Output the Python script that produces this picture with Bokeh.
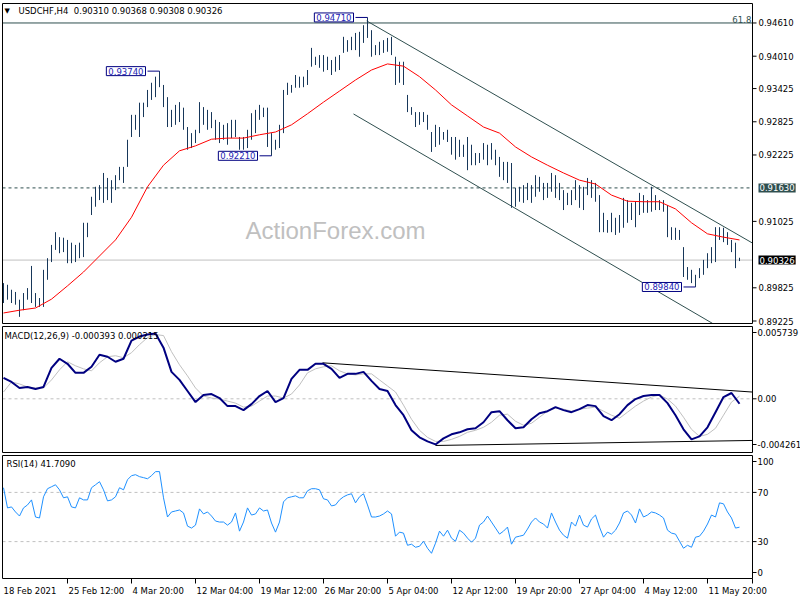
from bokeh.plotting import figure
from bokeh.models import Range1d, Label
from bokeh.core.properties import value
from bokeh.embed import file_html
from bokeh.resources import INLINE

# ---------------- data ----------------
symbol = "USDCHF,H4"
last_ohlc = [0.90310, 0.90368, 0.90308, 0.90326]

highs = [0.8991, 0.8988, 0.8979, 0.8975, 0.8961, 0.8973, 0.8982, 0.9022, 0.8973, 0.8964,
         0.9015, 0.9036, 0.9060, 0.9083, 0.9074, 0.9073, 0.9069, 0.9064, 0.9060, 0.9064,
         0.9100, 0.9100, 0.9147, 0.9165, 0.9168, 0.9190, 0.9181, 0.9177, 0.9186, 0.9201,
         0.9201, 0.9250, 0.9295, 0.9295, 0.9317, 0.9317, 0.9340, 0.9353, 0.9364, 0.9374,
         0.9349, 0.9327, 0.9304, 0.9313, 0.9318, 0.9308, 0.9273, 0.9262, 0.9268, 0.9318,
         0.9309, 0.9304, 0.9300, 0.9286, 0.9282, 0.9277, 0.9280, 0.9286, 0.9286, 0.9255,
         0.9255, 0.9268, 0.9298, 0.9304, 0.9313, 0.9308, 0.9308, 0.9262, 0.9250, 0.9277,
         0.9340, 0.9353, 0.9349, 0.9367, 0.9364, 0.9364, 0.9376, 0.9416, 0.9400, 0.9403,
         0.9403, 0.9400, 0.9394, 0.9400, 0.9403, 0.9436, 0.9430, 0.9436, 0.9443, 0.9445,
         0.9457, 0.9471, 0.9448, 0.9421, 0.9427, 0.9430, 0.9434, 0.9436, 0.9400, 0.9391,
         0.9391, 0.9331, 0.9309, 0.9300, 0.9300, 0.9300, 0.9295, 0.9264, 0.9277, 0.9273,
         0.9264, 0.9268, 0.9255, 0.9255, 0.9250, 0.9241, 0.9255, 0.9241, 0.9226, 0.9226,
         0.9244, 0.9241, 0.9244, 0.9232, 0.9219, 0.9210, 0.9210, 0.9208, 0.9163, 0.9165,
         0.9168, 0.9172, 0.9168, 0.9186, 0.9183, 0.9172, 0.9172, 0.9190, 0.9186, 0.9172,
         0.9159, 0.9154, 0.9159, 0.9177, 0.9168, 0.9165, 0.9181, 0.9177, 0.9172, 0.9150,
         0.9118, 0.9105, 0.9118, 0.9109, 0.9114, 0.9145, 0.9141, 0.9136, 0.9138, 0.9154,
         0.9150, 0.9141, 0.9165, 0.9150, 0.9141, 0.9141, 0.9132, 0.9092, 0.9091, 0.9087,
         0.9056, 0.9020, 0.9015, 0.9006, 0.9018, 0.9033, 0.9045, 0.9056, 0.9092, 0.9092,
         0.9091, 0.9083, 0.9069, 0.9064, 0.90368]

lows = [0.8955, 0.8961, 0.8955, 0.8952, 0.8930, 0.8942, 0.8961, 0.8955, 0.8948, 0.8948,
        0.8948, 0.8997, 0.9029, 0.9051, 0.9045, 0.9047, 0.9027, 0.9027, 0.9029, 0.9036,
        0.9038, 0.9074, 0.9114, 0.9129, 0.9141, 0.9136, 0.9141, 0.9136, 0.9159, 0.9177,
        0.9172, 0.9201, 0.9255, 0.9268, 0.9255, 0.9291, 0.9309, 0.9322, 0.9327, 0.9345,
        0.9309, 0.9273, 0.9273, 0.9277, 0.9282, 0.9268, 0.9232, 0.9235, 0.9244, 0.9262,
        0.9277, 0.9268, 0.9271, 0.9250, 0.9244, 0.9250, 0.9241, 0.9253, 0.9255, 0.9232,
        0.9232, 0.9235, 0.9250, 0.9262, 0.9286, 0.9291, 0.9237, 0.9221, 0.9232, 0.9235,
        0.9262, 0.9331, 0.9335, 0.9344, 0.9344, 0.9345, 0.9349, 0.9382, 0.9385, 0.9380,
        0.9373, 0.9376, 0.9367, 0.9373, 0.9376, 0.9407, 0.9409, 0.9412, 0.9412, 0.9400,
        0.9425, 0.9434, 0.9400, 0.9403, 0.9403, 0.9407, 0.9409, 0.9403, 0.9349, 0.9353,
        0.9349, 0.9300, 0.9295, 0.9273, 0.9277, 0.9282, 0.9268, 0.9228, 0.9237, 0.9241,
        0.9250, 0.9246, 0.9223, 0.9214, 0.9219, 0.9219, 0.9195, 0.9204, 0.9204, 0.9208,
        0.9214, 0.9204, 0.9214, 0.9204, 0.9183, 0.9177, 0.9172, 0.9127, 0.9129, 0.9138,
        0.9136, 0.9141, 0.9136, 0.9147, 0.9156, 0.9141, 0.9145, 0.9156, 0.9145, 0.9141,
        0.9123, 0.9132, 0.9132, 0.9141, 0.9127, 0.9123, 0.9150, 0.9145, 0.9138, 0.9083,
        0.9083, 0.9082, 0.9083, 0.9078, 0.9082, 0.9091, 0.9100, 0.9105, 0.9092, 0.9114,
        0.9118, 0.9118, 0.9120, 0.9123, 0.9123, 0.9120, 0.9074, 0.9069, 0.9069, 0.9069,
        0.9002, 0.8997, 0.8991, 0.8984, 0.9000, 0.9006, 0.9018, 0.9027, 0.9029, 0.9069,
        0.9065, 0.9060, 0.9047, 0.9018, 0.90308]

# moving average, read every 4th bar
ma_vals = [0.8937, 0.8942, 0.8946, 0.8962, 0.8986, 0.9011, 0.9040, 0.9069, 0.9110, 0.9165,
           0.9204, 0.9230, 0.9239, 0.9251, 0.9253, 0.9253, 0.9259, 0.9264, 0.9277, 0.9297,
           0.9318, 0.9338, 0.9358, 0.9376, 0.9387, 0.9383, 0.9364, 0.9340, 0.9313, 0.9293,
           0.9273, 0.9262, 0.9237, 0.9219, 0.9204, 0.9190, 0.9177, 0.9170, 0.9150, 0.9139,
           0.9138, 0.9138, 0.9125, 0.9100, 0.9080, 0.9074, 0.9069]

# MACD main / signal (units of 1e-4), read every 2nd bar
macd_e4 = [16.6, 13.4, 8.6, 9.4, 7.8, 9.4, 24.6, 31.8, 27.8, 20.6,
           20.6, 25.4, 35.0, 33.4, 29.4, 31.8, 46.2, 49.4, 51.0, 51.8,
           40.6, 21.4, 15.0, 6.2, -2.6, 3.0, 3.8, 0.6, -5.8, -5.8,
           -9.0, -4.2, 2.2, 6.2, -2.6, 0.6, 15.8, 23.0, 23.0, 27.8,
           27.8, 23.8, 16.6, 19.8, 19.8, 21.4, 14.2, 7.8, 6.2, -5.0,
           -13.0, -25.0, -30.6, -33.8, -36.2, -31.4, -28.2, -26.6, -24.2, -23.4,
           -18.6, -10.6, -9.8, -17.0, -23.4, -22.6, -16.2, -11.4, -9.8, -6.6,
           -9.0, -10.6, -8.2, -5.0, -5.8, -13.8, -17.0, -12.2, -5.0, -0.2,
           2.2, 3.0, 3.0, -3.4, -13.0, -24.2, -32.2, -29.8, -22.6, -10.6,
           1.4, 4.6, -3.93]
signal_e4 = [5.4, 13.4, 11.8, 9.4, 8.6, 8.6, 15.0, 23.0, 29.4, 26.2,
             23.8, 22.2, 28.6, 33.4, 34.2, 32.6, 36.6, 43.0, 48.6, 51.0,
             50.2, 37.4, 27.0, 18.2, 8.6, 2.2, 0.6, -0.2, -1.8, -3.4,
             -6.6, -5.8, -1.8, 2.2, 2.2, 0.6, 3.8, 11.0, 20.6, 23.8,
             25.4, 26.2, 22.2, 19.8, 19.0, 19.8, 19.8, 15.0, 10.2, 5.4,
             -5.0, -16.2, -25.0, -30.6, -33.8, -33.8, -32.2, -29.8, -26.6, -25.0,
             -22.6, -18.6, -13.0, -12.2, -17.8, -21.0, -19.4, -14.6, -9.8, -7.4,
             -8.2, -9.8, -8.2, -7.4, -6.6, -9.8, -13.0, -15.4, -10.6, -5.8,
             -1.8, 1.4, 3.0, -0.2, -5.8, -14.6, -24.2, -29.8, -28.2, -23.4,
             -13.0, -2.6, 2.15]
macd_range = [-0.004261, 0.005739]

rsi = [73.8, 57.4, 58.2, 54.1, 50.8, 57.4, 59.8, 63.9, 50.0, 49.2,
       66.4, 73.0, 74.6, 76.2, 72.1, 65.6, 66.4, 58.2, 57.4, 65.6,
       63.9, 63.9, 73.8, 76.2, 78.7, 72.1, 63.1, 63.9, 66.4, 73.8,
       72.1, 80.3, 83.6, 84.4, 82.8, 82.0, 81.1, 83.6, 86.9, 86.9,
       65.6, 50.0, 54.1, 54.9, 55.7, 53.3, 42.6, 41.0, 43.4, 56.6,
       52.5, 54.1, 50.8, 46.7, 45.9, 45.9, 43.4, 45.9, 53.3, 38.5,
       45.9, 57.4, 51.6, 52.5, 57.4, 54.9, 55.7, 45.1, 37.7, 45.9,
       62.3, 65.6, 66.4, 67.2, 65.6, 65.6, 71.3, 73.0, 73.0, 72.1,
       64.8, 63.9, 59.0, 59.8, 63.9, 66.4, 68.0, 68.9, 61.5, 66.4,
       68.9, 59.8, 50.0, 50.0, 50.8, 52.5, 54.9, 52.5, 34.4, 37.7,
       36.9, 27.0, 27.9, 25.4, 26.2, 30.3, 24.6, 20.5, 28.7, 38.5,
       34.4, 39.3, 32.8, 30.3, 39.3, 36.9, 32.8, 29.5, 32.8, 43.4,
       45.9, 50.8, 45.9, 41.0, 36.1, 38.5, 41.8, 27.9, 33.6, 34.4,
       35.2, 40.2, 45.9, 49.2, 45.9, 44.3, 41.0, 53.3, 45.9, 39.3,
       35.2, 32.8, 45.9, 42.6, 51.6, 43.4, 41.8, 48.4, 51.6, 41.8,
       33.6, 37.7, 36.1, 39.3, 45.1, 53.3, 54.9, 51.6, 45.1, 56.6,
       50.0, 51.6, 54.1, 53.3, 51.6, 49.2, 39.3, 36.9, 36.1, 30.3,
       24.6, 27.0, 25.4, 33.6, 34.4, 38.5, 44.3, 51.6, 50.0, 61.5,
       60.7, 54.1, 49.2, 41.0, 41.709]
rsi_range = [0, 100]
rsi_levels = [70, 30]

# axis ticks
price_ticks = [0.94610, 0.94010, 0.93425, 0.92825, 0.92225, 0.91025, 0.89825, 0.89225]
price_range = [0.89180, 0.94962]
x_tick_idx = [16, 32, 48, 64, 80, 96, 112, 128, 144, 160, 176]
x_tick_labels = ["25 Feb 12:00", "4 Mar 20:00", "12 Mar 04:00", "19 Mar 12:00", "26 Mar 20:00",
                 "5 Apr 04:00", "12 Apr 12:00", "19 Apr 20:00", "27 Apr 04:00", "4 May 12:00",
                 "11 May 20:00"]
first_date = "18 Feb 2021"

# drawn objects (anchor points in bar-index / value units)
fib_level, fib_text = 0.94610, "61.8"
resistance = 0.91630
swing_idx = [39, 91, 67, 173]
swing_val = [0.93740, 0.94710, 0.92210, 0.89840]
chan_up_x, chan_up_y = [90.8, 187.2], [0.94647, 0.90635]
chan_lo_x, chan_lo_y = [87.5, 177.3], [0.92966, 0.89180]
macd_tu_x, macd_tu_y = [79.75, 187.25], [0.002856, 0.000536]
macd_tl_x, macd_tl_y = [108.0, 187.25], [-0.003704, -0.003304]

# ---------------- layout (page pixels) ----------------
W, H = 800, 600
PX0, PPB = 3.0, 4.0          # first bar position, pixels per bar
LEFT, RIGHT = 2.0, 752.0      # panel border x
BANDS = {"default": (3.0, 323.0, price_range),
         "macd": (326.0, 452.0, macd_range),
         "rsi": (455.0, 578.0, rsi_range)}


def xi(px):
    return (px - PX0) / PPB


def full_range(top, bot, vr):
    k = (vr[1] - vr[0]) / (bot - top)
    return Range1d(vr[0] - (H - bot) * k, vr[1] + top * k)


def vpx(name, dpx):
    top, bot, vr = BANDS[name]
    return dpx * (vr[1] - vr[0]) / (bot - top)


FONT = "DejaVu Sans"
FS = "8.5px"
BAR = "#17375a"
SLATE = "#2f4f4f"

p = figure(width=W, height=H, x_range=Range1d(xi(0), xi(W)),
           y_range=full_range(*BANDS["default"]),
           output_backend="svg", toolbar_location=None,
           x_axis_location=None, y_axis_location=None, min_border=0,
           title_location=None, styles={"position": "absolute", "left": "0px", "top": "0px"})
p.extra_y_ranges = {"macd": full_range(*BANDS["macd"]), "rsi": full_range(*BANDS["rsi"])}
p.grid.visible = False
p.outline_line_color = None
p.background_fill_color = "white"
p.border_fill_color = "white"

n = len(highs)
idx = list(range(n))
ma_idx = list(range(0, n, 4))
ind_idx = list(range(0, n, 2))
macd = [v * 1e-4 for v in macd_e4]
signal = [v * 1e-4 for v in signal_e4]
close = last_ohlc[3]
xl, xr_ = xi(LEFT), xi(RIGHT)


def txt(xs, ys, texts, rng="default", align="left", baseline="middle", color="black", size=FS):
    p.text(x=xs, y=ys, text=texts, text_font=value(FONT), text_font_size=value(size),
           text_color=color, text_align=align, text_baseline=baseline, y_range_name=rng)


def lab(text, x, y, xu="screen", yu="screen", rng="default", **kw):
    d = dict(text_font=FONT, text_font_size=FS, text_color="black",
             text_baseline="middle", text_align="left")
    d.update(kw)
    p.add_layout(Label(x=x, y=y, x_units=xu, y_units=yu, text=text, y_range_name=rng, **d))


# ---- main price panel ----
lab("ActionForex.com", 245, H - 230, text_font="Liberation Sans", text_font_size="24px",
    text_color="#c0c0c0")
p.segment(x0=[xl], y0=[fib_level], x1=[xr_], y1=[fib_level], line_color=SLATE)
p.segment(x0=[xl], y0=[resistance], x1=[xr_], y1=[resistance], line_color=SLATE, line_dash="3 3")
p.segment(x0=[xl], y0=[close], x1=[xr_], y1=[close], line_color="#c0c0c0")
p.line(chan_up_x, chan_up_y, line_color=SLATE)
p.line(chan_lo_x, chan_lo_y, line_color=SLATE)
p.segment(x0=idx, y0=lows, x1=idx, y1=highs, line_color=BAR, line_width=1)
p.line(ma_idx, ma_vals, line_color="red", line_width=1)

for i, v in zip(swing_idx, swing_val):
    p.segment(x0=[i - 3], y0=[v], x1=[i], y1=[v], line_color="#000080", line_width=1)
    lab(f"{v:.5f}", i - 3.5, v, "data", "data", text_align="right", text_color="#1c1cb4",
        background_fill_color="white", border_line_color="#000080",
        padding=dict(left=2, right=2, top=1, bottom=1))

txt([xr_ - 0.3], [fib_level], [fib_text], align="right", baseline="bottom", color=SLATE)
lab("\u25bc", 4, H - 10, text_font_size="7px")
lab(f"{symbol}\u00a0 " + " ".join(f"{v:.5f}" for v in last_ohlc), 18, H - 10)

# right price scale
p.segment(x0=[xr_] * len(price_ticks), y0=price_ticks, x1=[xi(RIGHT + 4)] * len(price_ticks),
          y1=price_ticks, line_color="black")
txt([xi(758)] * len(price_ticks), price_ticks, [f"{t:.5f}" for t in price_ticks])
lab(f"{resistance:.5f}", xi(758), resistance, "data", "data", text_color="white",
    background_fill_color=SLATE, padding=1)
lab(f"{close:.5f}", xi(758), close, "data", "data", text_color="white",
    background_fill_color="black", padding=1)

# ---- MACD panel ----
p.segment(x0=[xl], y0=[0.0], x1=[xr_], y1=[0.0], line_color="#c0c0c0", line_dash="3 3",
          y_range_name="macd")
p.line(macd_tu_x, macd_tu_y, line_color="black", y_range_name="macd")
p.line(macd_tl_x, macd_tl_y, line_color="black", y_range_name="macd")
p.line(ind_idx, signal, line_color="#c0c0c0", line_width=1, y_range_name="macd")
p.line(ind_idx, macd, line_color="#000080", line_width=2, y_range_name="macd")
lab(f"MACD(12,26,9) {macd[-1]:.6f} {signal[-1]:.6f}", 4, H - 335)
macd_lab_y = [macd_range[1] - vpx("macd", 6), 0.0, macd_range[0] + vpx("macd", 8)]
macd_lab_t = [f"{macd_range[1]:.6f}", "0.00", f"{macd_range[0]:.6f}"]
p.segment(x0=[xr_] * 3, y0=macd_lab_y, x1=[xi(RIGHT + 4)] * 3, y1=macd_lab_y,
          line_color="black", y_range_name="macd")
txt([xi(757)] * 3, macd_lab_y, macd_lab_t, rng="macd")

# ---- RSI panel ----
for lv in rsi_levels:
    p.segment(x0=[xl], y0=[lv], x1=[xr_], y1=[lv], line_color="#c0c0c0", line_dash="3 3",
              y_range_name="rsi")
p.line(idx, rsi, line_color="#1e90ff", line_width=1, y_range_name="rsi")
lab(f"RSI(14) {rsi[-1]:.4f}", 6, H - 463)
rsi_lab_y = [rsi_range[1] - vpx("rsi", 6), 70, 30, rsi_range[0] + vpx("rsi", 6)]
rsi_lab_t = ["100", "70", "30", "0"]
p.segment(x0=[xr_] * 4, y0=rsi_lab_y, x1=[xi(RIGHT + 4)] * 4, y1=rsi_lab_y,
          line_color="black", y_range_name="rsi")
txt([xi(757)] * 4, rsi_lab_y, rsi_lab_t, rng="rsi")

# time axis (ticks below the last panel, plus the right border's end tick)
tick_x = x_tick_idx + [xr_]
p.segment(x0=tick_x, y0=[rsi_range[0]] * len(tick_x), x1=tick_x,
          y1=[rsi_range[0] - vpx("rsi", 5)] * len(tick_x), line_color="black",
          y_range_name="rsi")
txt([xi(3)] + [t + 0.25 for t in x_tick_idx], [rsi_range[0] - vpx("rsi", 12)] * (len(x_tick_idx) + 1),
    [first_date] + x_tick_labels, rng="rsi")

# panel borders
for name, (top, bot, vr) in BANDS.items():
    p.quad(left=[xl], right=[xr_], bottom=[vr[0]], top=[vr[1]], fill_color=None,
           line_color="black", line_width=1, y_range_name=name)

open("out.html", "w").write(file_html(p, INLINE))
